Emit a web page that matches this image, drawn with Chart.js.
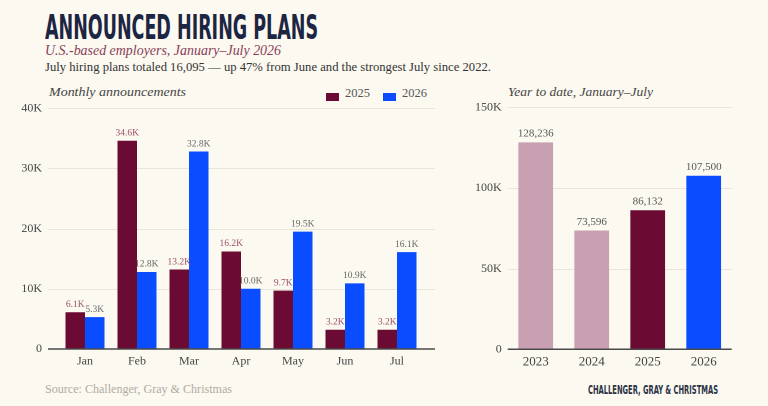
<!DOCTYPE html>
<html>
<head>
<meta charset="utf-8">
<script src="https://cdn.jsdelivr.net/npm/chart.js@4.4.1/dist/chart.umd.min.js"></script>
<style>
  html,body{margin:0;padding:0;}
  body{width:768px;height:406px;overflow:hidden;background:#fcf9f1;position:relative;font-family:"Liberation Serif",serif;}
  .t{position:absolute;white-space:nowrap;transform-origin:0 0;margin:0;}
  canvas{position:absolute;}
  .sw{position:absolute;width:13px;height:8px;}
</style>
</head>
<body>
<div class="t fit" id="title" data-w="273" style="left:45px;top:9.5px;font-family:'Liberation Sans Narrow','DejaVu Sans Condensed',sans-serif;font-weight:bold;font-size:34px;line-height:34px;color:#1c2541;">ANNOUNCED HIRING PLANS</div>
<div class="t fit" data-w="236" style="left:45px;top:42.5px;font-style:italic;font-size:15px;line-height:15px;color:#8a3d58;">U.S.-based employers, January–July 2026</div>
<div class="t fit" data-w="446" style="left:45px;top:59.5px;font-size:13.5px;line-height:13.5px;color:#333;">July hiring plans totaled 16,095 — up 47% from June and the strongest July since 2022.</div>
<div class="t fit" data-w="137" style="left:49px;top:85.2px;font-style:italic;font-size:13.5px;line-height:13.5px;color:#444;">Monthly announcements</div>
<div class="t fit" data-w="145" style="left:508px;top:85.2px;font-style:italic;font-size:13.5px;line-height:13.5px;color:#444;">Year to date, January–July</div>
<div class="sw" style="left:326px;top:93px;background:#6b0a33;"></div>
<div class="t fit" data-w="25" style="left:345px;top:86px;font-size:13px;line-height:13px;color:#555;">2025</div>
<div class="sw" style="left:383px;top:93px;background:#0a4cff;"></div>
<div class="t fit" data-w="25" style="left:402px;top:86px;font-size:13px;line-height:13px;color:#555;">2026</div>
<div class="t fit" data-w="187" style="left:45px;top:382.5px;font-size:12.5px;line-height:12.5px;color:#b0aca2;">Source: Challenger, Gray &amp; Christmas</div>
<div class="t fit" data-w="130" style="left:588px;top:383.6px;font-family:'Liberation Sans Narrow','DejaVu Sans Condensed',sans-serif;font-weight:bold;font-size:12.3px;line-height:12.3px;color:#2b3245;">CHALLENGER, GRAY &amp; CHRISTMAS</div>

<canvas id="c1" width="450" height="306" style="left:0px;top:84px;width:450px;height:306px;"></canvas>
<canvas id="c2" width="300" height="296" style="left:460px;top:94px;width:300px;height:296px;"></canvas>

<script>
// ---- data ----
const months = ['Jan','Feb','Mar','Apr','May','Jun','Jul'];
const v2025 = [6100, 34600, 13200, 16200, 9700, 3200, 3200];
const v2026 = [5300, 12800, 32800, 10000, 19500, 10900, 16100];
const leftTickLabels = ['0','10K','20K','30K','40K'];
const ytdYears = ['2023','2024','2025','2026'];
const ytdValues = [128236, 73596, 86132, 107500];
const rightTickLabels = ['0','50K','100K','150K'];

// ---- styles ----
const MAROON = '#6b0a33', BLUE = '#0a4cff', PINK = '#c9a0b1';
const ytdColors = [PINK, PINK, MAROON, BLUE];
const SERIF = "'Liberation Serif', serif";

// fit text widths
document.querySelectorAll('.fit').forEach(el => {
  const w = el.getBoundingClientRect().width;
  const target = parseFloat(el.dataset.w);
  if (w > 0) el.style.transform = 'scaleX(' + (target / w) + ')';
});

function gridPlugin(extL, extR) {
  return {
    id: 'gridExt',
    beforeDatasetsDraw(chart) {
      const {ctx, chartArea, scales:{y}} = chart;
      ctx.save();
      ctx.strokeStyle = '#e9e5da';
      ctx.lineWidth = 1;
      y.ticks.forEach(t => {
        if (t.value === 0) return;
        const py = Math.round(y.getPixelForValue(t.value)) + 0.5;
        ctx.beginPath();
        ctx.moveTo(chartArea.left - extL, py);
        ctx.lineTo(chartArea.right + extR, py);
        ctx.stroke();
      });
      ctx.restore();
    },
    afterDatasetsDraw(chart) {
      const {ctx, chartArea, scales:{y}} = chart;
      const py = y.getPixelForValue(0);
      ctx.save();
      ctx.strokeStyle = '#4a4a4a';
      ctx.lineWidth = 1.5;
      ctx.beginPath();
      ctx.moveTo(chartArea.left - extL, py);
      ctx.lineTo(chartArea.right + extR, py);
      ctx.stroke();
      ctx.restore();
    }
  };
}

function labelPlugin(fmt, colors, fontSize) {
  return {
    id: 'valLabels',
    afterDatasetsDraw(chart) {
      const {ctx} = chart;
      ctx.save();
      ctx.font = fontSize + 'px ' + SERIF;
      ctx.textAlign = 'center';
      ctx.textBaseline = 'bottom';
      chart.data.datasets.forEach((ds, di) => {
        const meta = chart.getDatasetMeta(di);
        meta.data.forEach((bar, i) => {
          ctx.fillStyle = colors[di];
          ctx.fillText(fmt(ds.data[i]), bar.x, bar.y - 3);
        });
      });
      ctx.restore();
    }
  };
}

new Chart(document.getElementById('c1'), {
  type: 'bar',
  data: {
    labels: months,
    datasets: [
      {label: '2025', data: v2025, backgroundColor: MAROON},
      {label: '2026', data: v2026, backgroundColor: BLUE}
    ]
  },
  options: {
    responsive: false, animation: false, devicePixelRatio: 2,
    layout: {padding: {left: 0, right: 27, top: 7, bottom: 0}},
    plugins: {legend: {display: false}, tooltip: {enabled: false}},
    datasets: {bar: {barPercentage: 1, categoryPercentage: 0.75, borderWidth: 0}},
    scales: {
      x: {
        grid: {display: false, drawTicks: false}, border: {display: false},
        ticks: {font: {family: SERIF, size: 12}, color: '#444', padding: 5},
        afterFit(s) { s.height = 41; }
      },
      y: {
        min: 0, max: 40000,
        grid: {display: false, drawTicks: false}, border: {display: false},
        ticks: {stepSize: 10000, font: {family: SERIF, size: 12}, color: '#444', padding: 17,
          callback: (v, i) => leftTickLabels[i]},
        afterFit(s) { s.width = 59; }
      }
    }
  },
  plugins: [gridPlugin(11, 12), labelPlugin(v => (v / 1000).toFixed(1) + 'K', ['#9a5068', '#666'], 9.5)]
});

new Chart(document.getElementById('c2'), {
  type: 'bar',
  data: {
    labels: ytdYears,
    datasets: [{label: 'YTD', data: ytdValues, backgroundColor: ytdColors}]
  },
  options: {
    responsive: false, animation: false, devicePixelRatio: 2,
    layout: {padding: {left: 0, right: 28.3, top: 6.7, bottom: 0}},
    plugins: {legend: {display: false}, tooltip: {enabled: false}},
    datasets: {bar: {barPercentage: 0.62, categoryPercentage: 1, borderWidth: 0}},
    scales: {
      x: {
        grid: {display: false, drawTicks: false}, border: {display: false},
        ticks: {font: {family: SERIF, size: 13}, color: '#444', padding: 5},
        afterFit(s) { s.height = 40.7; }
      },
      y: {
        min: 0, max: 150000,
        grid: {display: false, drawTicks: false}, border: {display: false},
        ticks: {stepSize: 50000, font: {family: SERIF, size: 12}, color: '#444', padding: 6,
          callback: (v, i) => rightTickLabels[i]},
        afterFit(s) { s.width = 47.7; }
      }
    }
  },
  plugins: [gridPlugin(0, 0), labelPlugin(v => v.toLocaleString('en-US'), ['#555'], 11)]
});
</script>
</body>
</html>
